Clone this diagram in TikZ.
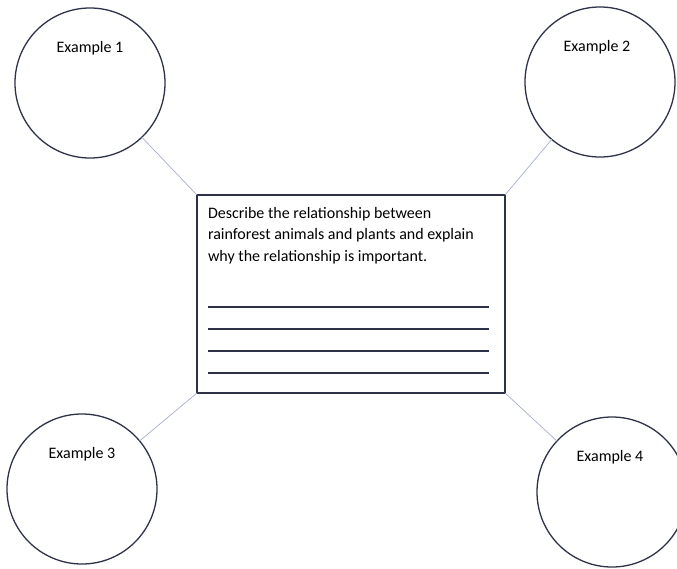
\documentclass[tikz,border=0pt]{standalone}
\usepackage{fontspec}
\setmainfont{Carlito}
\usetikzlibrary{positioning}
\definecolor{circ}{RGB}{45,50,72}
\definecolor{link}{RGB}{165,175,205}

\begin{document}
\begin{tikzpicture}[x=1pt, y=-1pt, outer sep=0pt,
  example/.style={circle, draw=circ, line width=1.3pt, minimum size=150pt, inner sep=0pt},
  exlabel/.style={font=\fontsize{16}{20}\selectfont, inner sep=0pt},
  qbox/.style={draw=circ, line width=1.3pt, minimum width=308pt, minimum height=198pt},
  qtext/.style={font=\fontsize{16}{21.5}\selectfont, align=left, inner sep=0pt},
  rule/.style={draw=circ, line width=1.1pt},
  link/.style={draw=link, line width=0.7pt}]

\useasboundingbox (0,0) rectangle (677,568);

\node[example] at (90, 83) (EX_1) {};
\node[example] at (600, 82) (EX_2) {};
\node[example] at (82, 489) (EX_3) {};
\node[example] at (612, 492) (EX_4) {};
\node[exlabel, above=28pt of EX_1.center] (EX_1_TXT) {Example 1};
\node[exlabel, above=28pt of EX_2.center, xshift=-3pt] (EX_2_TXT) {Example 2};
\node[exlabel, above=28pt of EX_3.center] (EX_3_TXT) {Example 3};
\node[exlabel, above=28pt of EX_4.center, xshift=-2pt] (EX_4_TXT) {Example 4};

\node[qbox] at (351, 294) (BOX) {};
\node[qtext, anchor=north west] at (208, 207) (QUESTION) {Describe the relationship between\\rainforest animals and plants and explain\\why the relationship is important.};
\foreach \y in {307, 329, 351, 373}
    \draw[rule] (208, \y) -- (489, \y);

    \draw [link] (EX_1) to (BOX.north west);
    \draw [link] (EX_2) to (BOX.north east);
    \draw [link] (EX_3) to (BOX.south west);
    \draw [link] (EX_4) to (BOX.south east);
\end{tikzpicture}
\end{document}
